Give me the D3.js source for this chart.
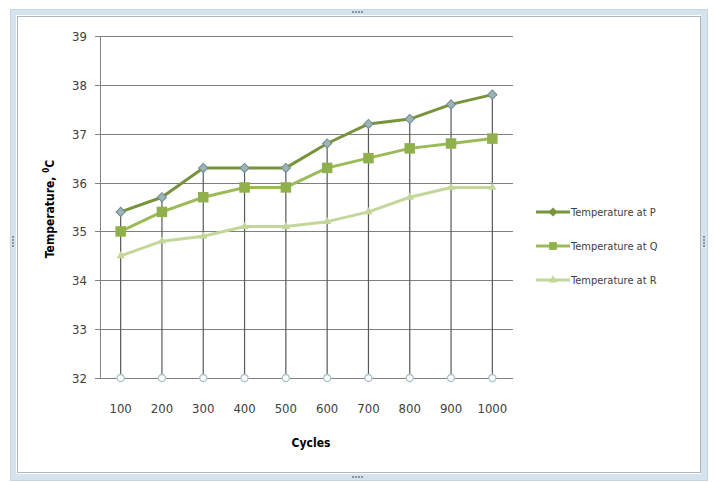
<!DOCTYPE html>
<html lang="en">
<head>
<meta charset="UTF-8">
<title>Temperature vs cycles</title>
<script src="https://cdn.jsdelivr.net/npm/d3@7"></script>
<style>
	body{ margin:0; background:#fff; }
	text{ font-family: "DejaVu Sans Condensed", "Liberation Sans Narrow", sans-serif; fill:#404040; }
	.grid line{ stroke:#7f7f7f; stroke-width:1; shape-rendering:crispEdges; }
	.drop{ stroke:#595959; stroke-width:1.2; }
</style>
</head>
<body>
<div id="main"></div>
<script>
var cycles = [100, 200, 300, 400, 500, 600, 700, 800, 900, 1000];
var tempP = [35.4, 35.7, 36.3, 36.3, 36.3, 36.8, 37.2, 37.3, 37.6, 37.8];
var tempQ = [35.0, 35.4, 35.7, 35.9, 35.9, 36.3, 36.5, 36.7, 36.8, 36.9];
var tempR = [34.5, 34.8, 34.9, 35.1, 35.1, 35.2, 35.4, 35.7, 35.9, 35.9];
var baseLine = [32, 32, 32, 32, 32, 32, 32, 32, 32, 32];
var yTicks = [32, 33, 34, 35, 36, 37, 38, 39];
var seriesNames = ["Temperature at P", "Temperature at Q", "Temperature at R"];

var width = 713, height = 482,
	plot = {left:100, right:513, top:36, bottom:378};

var svg = d3.select("#main").append("svg")
	.attr("width", width)
	.attr("height", height);

// chart window frame
svg.append("rect").attr("x", 13).attr("y", 12).attr("width", 691).attr("height", 465)
	.attr("fill", "none").attr("stroke", "#d4e3ee").attr("stroke-width", 6);
svg.append("rect").attr("x", 17.5).attr("y", 16.5).attr("width", 683).attr("height", 456)
	.attr("fill", "#fff").attr("stroke", "#b0b8bf").attr("stroke-width", 1);
svg.append("rect").attr("x", 10.5).attr("y", 9.5).attr("width", 697).attr("height", 471)
	.attr("fill", "none").attr("stroke", "#c7d6e2").attr("stroke-width", 1);
// handle dots
function dots(cx, cy, vertical){
	d3.range(4).forEach(function(i){
		svg.append("rect")
			.attr("x", vertical ? cx - 1 : cx - 6 + i*3)
			.attr("y", vertical ? cy - 6 + i*3 : cy - 1)
			.attr("width", 2).attr("height", 2).attr("fill", "#8a949c");
	});
}
dots(358, 12, false);
dots(358, 477, false);
dots(13, 242, true);
dots(704, 242, true);

var x = d3.scaleBand().domain(cycles).range([plot.left, plot.right]);
var y = d3.scaleLinear().domain([32, 39]).range([plot.bottom, plot.top]);
var cx = function(d){ return x(d) + x.bandwidth()/2; };

// gridlines
svg.append("g").attr("class", "grid")
	.selectAll("line").data(yTicks).enter().append("line")
	.attr("x1", plot.left - 5).attr("x2", plot.right)
	.attr("y1", function(d){ return Math.round(y(d)); })
	.attr("y2", function(d){ return Math.round(y(d)); });

// y axis line
svg.append("line")
	.attr("x1", plot.left + 0.5).attr("x2", plot.left + 0.5)
	.attr("y1", plot.top).attr("y2", plot.bottom)
	.attr("stroke", "#868686");

// y labels
svg.selectAll("text.ylab").data(yTicks).enter().append("text")
	.attr("class", "ylab")
	.attr("x", plot.left - 13)
	.attr("y", function(d){ return y(d) + 5; })
	.attr("text-anchor", "end")
	.style("font-size", "13px")
	.text(function(d){ return d; });

// x labels
svg.selectAll("text.xlab").data(cycles).enter().append("text")
	.attr("class", "xlab")
	.attr("x", cx)
	.attr("y", 413)
	.attr("text-anchor", "middle")
	.style("font-size", "13px")
	.text(function(d){ return d; });

// axis titles
svg.append("text")
	.attr("x", 311).attr("y", 447)
	.attr("text-anchor", "middle")
	.style("font-size", "12px").style("font-weight", "bold")
	.style("fill", "#000")
	.text("Cycles");

var yt = svg.append("text")
	.attr("transform", "translate(54," + ((plot.top + plot.bottom)/2 + 2) + ") rotate(-90)")
	.attr("text-anchor", "middle")
	.style("font-size", "12px").style("font-weight", "bold")
	.style("fill", "#000");
yt.append("tspan").text("Temperature, ");
yt.append("tspan").attr("dy", -5).style("font-size", "8px").text("0");
yt.append("tspan").attr("dy", 5).text("C");

// drop lines from P down to 32
svg.selectAll("line.drop").data(cycles).enter().append("line")
	.attr("class", "drop")
	.attr("x1", cx).attr("x2", cx)
	.attr("y1", function(d, i){ return y(tempP[i]); })
	.attr("y2", function(d, i){ return y(baseLine[i]); });

// base markers
svg.selectAll("circle.base").data(cycles).enter().append("circle")
	.attr("class", "base")
	.attr("cx", cx)
	.attr("cy", function(d, i){ return y(baseLine[i]); })
	.attr("r", 3.5)
	.attr("fill", "#fff").attr("stroke", "#a9c3c6").attr("stroke-width", 1.3);

var series = [
	{name: seriesNames[0], values: tempP, color: "#77933c", marker: "diamond", mfill: "#9db4b6", width: 3},
	{name: seriesNames[1], values: tempQ, color: "#9bbb59", marker: "square", mfill: "#8fb04a", width: 3},
	{name: seriesNames[2], values: tempR, color: "#c4d79b", marker: "triangle", mfill: "#c4d79b", width: 3}
];

var line = d3.line()
	.x(function(d){ return cx(d.c); })
	.y(function(d){ return y(d.v); });

var symbols = {
	diamond: d3.symbol().type(d3.symbolSquare).size(42),
	square: d3.symbol().type(d3.symbolSquare).size(110),
	triangle: d3.symbol().type(d3.symbolTriangle).size(30)
};
var rot = function(s){ return s.marker == "diamond" ? " rotate(45)" : ""; };

// draw R first so P on top
series.slice().reverse().forEach(function(s){
	var pts = cycles.map(function(c, i){ return {c:c, v:s.values[i]}; });
	svg.append("path")
		.datum(pts)
		.attr("d", line)
		.attr("fill", "none")
		.attr("stroke", s.color)
		.attr("stroke-width", s.width)
		.attr("stroke-linejoin", "round");
	svg.selectAll(null).data(pts).enter().append("path")
		.attr("transform", function(d){ return "translate(" + cx(d.c) + "," + y(d.v) + ")" + rot(s); })
		.attr("d", symbols[s.marker])
		.attr("fill", s.mfill)
		.attr("stroke", s.marker == "diamond" ? "#6f8c8f" : "none")
		.attr("stroke-width", 1);
});

// legend
var legend = svg.append("g").attr("transform", "translate(536,212)");
series.forEach(function(s, i){
	var g = legend.append("g").attr("transform", "translate(0," + i*34 + ")");
	g.append("line").attr("x1", 0).attr("x2", 34).attr("y1", 0).attr("y2", 0)
		.attr("stroke", s.color).attr("stroke-width", 3);
	g.append("path").attr("transform", "translate(17,0)" + rot(s))
		.attr("d", s.marker == "square" ? d3.symbol().type(d3.symbolSquare).size(60) : symbols[s.marker])
		.attr("fill", s.marker == "diamond" ? s.color : s.mfill);
	g.append("text").attr("x", 35).attr("y", 4)
		.style("font-size", "11px")
		.text(s.name);
});
</script>
</body>
</html>
